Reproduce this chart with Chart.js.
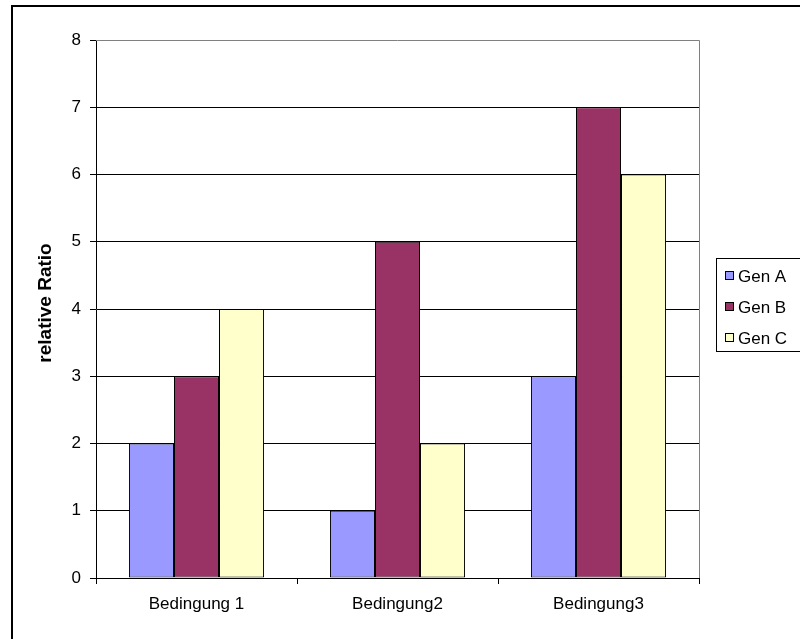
<!DOCTYPE html>
<html>
<head>
<meta charset="utf-8">
<script src="https://cdn.jsdelivr.net/npm/chart.js@4/dist/chart.umd.min.js"></script>
<style>
  html, body { margin: 0; padding: 0; background: #fff; }
  #wrap { position: relative; width: 800px; height: 639px; }
  canvas { display: block; }
</style>
</head>
<body>
<div id="wrap"><canvas id="c" width="800" height="639"></canvas></div>
<script>
const categories = ['Bedingung 1', 'Bedingung2', 'Bedingung3'];
const seriesNames = ['Gen A', 'Gen B', 'Gen C'];
const genA = [2, 1, 3];
const genB = [3, 5, 7];
const genC = [4, 2, 6];
const yTicks = [0, 1, 2, 3, 4, 5, 6, 7, 8];
const yTitle = 'relative Ratio';
const colors = ['#9999FF', '#993366', '#FFFFCC'];

const FONT = 'Arial, "Liberation Sans", sans-serif';

const framePlugin = {
  id: 'frame',
  beforeDraw(chart) {
    const ctx = chart.ctx;
    ctx.save();
    ctx.fillStyle = '#fff';
    ctx.fillRect(0, 0, chart.width, chart.height);
    ctx.restore();
  },
  beforeDatasetsDraw(chart) {
    const ctx = chart.ctx, a = chart.chartArea;
    ctx.save();
    ctx.strokeStyle = '#808080';
    ctx.lineWidth = 1;
    ctx.beginPath();
    ctx.moveTo(a.left, Math.round(a.top) + 0.5);
    ctx.lineTo(Math.round(a.right) + 0.5, Math.round(a.top) + 0.5);
    ctx.lineTo(Math.round(a.right) + 0.5, a.bottom);
    ctx.stroke();
    ctx.restore();
  },
  afterDraw(chart) {
    const ctx = chart.ctx;
    ctx.save();
    // outer chart border (left & top visible)
    ctx.strokeStyle = '#000';
    ctx.lineWidth = 2;
    ctx.beginPath();
    ctx.moveTo(12, chart.height);
    ctx.lineTo(12, 6);
    ctx.lineTo(chart.width, 6);
    ctx.stroke();
    // y-axis title
    const a = chart.chartArea;
    ctx.translate(46, (a.top + a.bottom) / 2 - 6);
    ctx.rotate(-Math.PI / 2);
    ctx.font = 'bold 19px ' + FONT;
    ctx.fillStyle = '#000';
    ctx.textAlign = 'center';
    ctx.textBaseline = 'middle';
    ctx.fillText(yTitle, 0, 0);
    ctx.setTransform(1, 0, 0, 1, 0, 0);
    // legend box
    ctx.lineWidth = 1;
    ctx.strokeStyle = '#000';
    ctx.strokeRect(716.5, 258.5, 100, 93);
    ctx.font = '17px ' + FONT;
    ctx.textBaseline = 'middle';
    ctx.textAlign = 'left';
    chart.data.datasets.forEach((ds, i) => {
      const cy = 276 + i * 31;
      ctx.fillStyle = ds.backgroundColor;
      ctx.fillRect(725.5, cy - 4.5, 8, 8);
      ctx.strokeStyle = '#000';
      ctx.strokeRect(725.5, cy - 4.5, 8, 8);
      ctx.fillStyle = '#000';
      ctx.fillText(ds.label, 738, cy + 1);
    });
    ctx.restore();
  }
};

new Chart(document.getElementById('c'), {
  type: 'bar',
  data: {
    labels: categories,
    datasets: [
      { label: seriesNames[0], data: genA, backgroundColor: colors[0] },
      { label: seriesNames[1], data: genB, backgroundColor: colors[1] },
      { label: seriesNames[2], data: genC, backgroundColor: colors[2] }
    ].map(d => Object.assign(d, {
      borderColor: '#000', borderWidth: 1, borderSkipped: false,
      categoryPercentage: 0.672, barPercentage: 1.0
    }))
  },
  options: {
    responsive: false,
    animation: false,
    devicePixelRatio: 1,
    layout: { padding: { left: 0, top: 40, right: 101, bottom: 0 } },
    plugins: { legend: { display: false }, tooltip: { enabled: false } },
    scales: {
      x: {
        offset: true,
        grid: { display: true, offset: true, drawOnChartArea: false, color: '#000', tickLength: 6, tickWidth: 1 },
        border: { display: true, color: '#000', width: 1 },
        ticks: { color: '#000', font: { family: FONT, size: 17 }, padding: 10, maxRotation: 0 },
        afterFit(s) { s.height = 61; }
      },
      y: {
        min: 0, max: 8,
        afterBuildTicks(s) { s.ticks = yTicks.map(v => ({ value: v })); },
        grid: {
          color: ctx => (ctx.tick && ctx.tick.value === 8) ? 'rgba(0,0,0,0)' : '#000',
          tickColor: '#000',
          tickLength: 6, lineWidth: 1
        },
        border: { display: true, color: '#000', width: 1 },
        ticks: { color: '#000', font: { family: FONT, size: 17 }, padding: 9 },
        title: { display: false },
        afterFit(s) { s.width = 96; }
      }
    }
  },
  plugins: [framePlugin]
});
</script>
</body>
</html>
